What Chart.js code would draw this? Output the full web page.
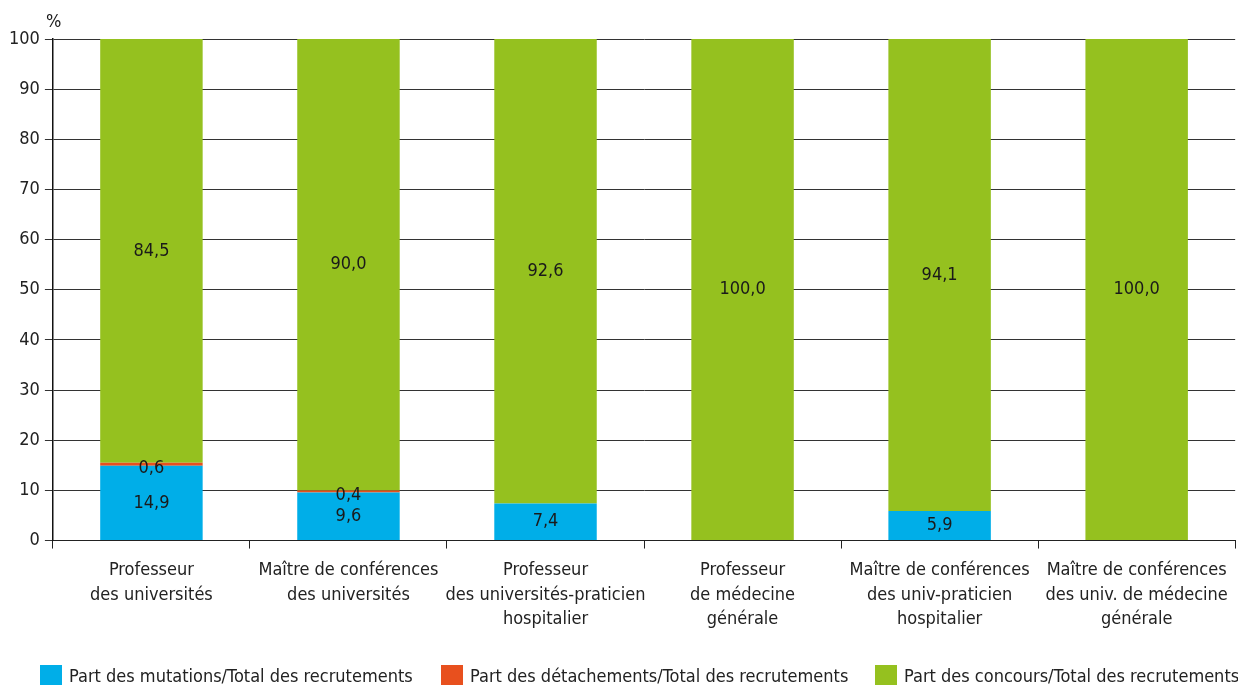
<!DOCTYPE html>
<html>
<head>
<meta charset="utf-8">
<script src="https://cdn.jsdelivr.net/npm/chart.js@4/dist/chart.umd.min.js"></script>
<style>
html,body{margin:0;padding:0;background:#fff;}
#wrap{position:relative;width:1238px;height:685px;}
</style>
</head>
<body>
<div id="wrap"><canvas id="c" width="1238" height="685"></canvas></div>
<script>
const categories = [
  ["Professeur", "des universités"],
  ["Maître de conférences", "des universités"],
  ["Professeur", "des universités-praticien", "hospitalier"],
  ["Professeur", "de médecine", "générale"],
  ["Maître de conférences", "des univ-praticien", "hospitalier"],
  ["Maître de conférences", "des univ. de médecine", "générale"]
];
const mutations = [14.9, 9.6, 7.4, 0, 5.9, 0];
const detachements = [0.6, 0.4, 0, 0, 0, 0];
const concours = [84.5, 90.0, 92.6, 100.0, 94.1, 100.0];
const seriesNames = [
  "Part des mutations/Total des recrutements",
  "Part des détachements/Total des recrutements",
  "Part des concours/Total des recrutements"
];
const seriesColors = ['#00aee8', '#e8501e', '#95c11f'];
const yTicks = [0, 10, 20, 30, 40, 50, 60, 70, 80, 90, 100];

const FONT = "'Liberation Sans Narrow', 'DejaVu Sans Condensed', 'Roboto', sans-serif";

const labelPlugin = {
  id: 'segLabels',
  afterDatasetsDraw(chart) {
    const ctx = chart.ctx;
    ctx.save();
    ctx.font = "18px " + FONT;
    ctx.fillStyle = "#1a1a1a";
    ctx.textAlign = "center";
    ctx.textBaseline = "middle";
    chart.data.datasets.forEach((ds, di) => {
      const meta = chart.getDatasetMeta(di);
      meta.data.forEach((bar, i) => {
        const v = ds.data[i];
        if (!v) return;
        let y = (bar.y + bar.base) / 2;
        if (di === 1) y += 4;
        ctx.fillText(v.toFixed(1).replace('.', ','), bar.x, y);
      });
    });
    // % unit label
    ctx.textAlign = "left";
    ctx.textBaseline = "alphabetic";
    ctx.fillText("%", 46, 27);
    // legend
    const legendX = [40, 441, 875];
    ctx.font = "18px " + FONT;
    ctx.textBaseline = "middle";
    seriesNames.forEach((name, k) => {
      ctx.fillStyle = seriesColors[k];
      ctx.fillRect(legendX[k], 665, 22, 22);
      ctx.fillStyle = "#222";
      ctx.fillText(name, legendX[k] + 29, 677);
    });
    ctx.restore();
  }
};

new Chart(document.getElementById('c'), {
  type: 'bar',
  data: {
    labels: categories,
    datasets: [
      { label: seriesNames[0], data: mutations, backgroundColor: seriesColors[0] },
      { label: seriesNames[1], data: detachements, backgroundColor: seriesColors[1] },
      { label: seriesNames[2], data: concours, backgroundColor: seriesColors[2] }
    ]
  },
  options: {
    responsive: false,
    animation: false,
    layout: { padding: { top: 39, right: 2, left: 4, bottom: 43 } },
    datasets: { bar: { barPercentage: 0.52, categoryPercentage: 1.0 } },
    scales: {
      x: {
        stacked: true,
        grid: { display: true, drawOnChartArea: false, drawTicks: true, tickLength: 8, color: '#222', offset: true },
        border: { display: true, color: '#222', width: 1 },
        ticks: { font: { size: 18, family: FONT, lineHeight: 1.36 }, color: '#222', maxRotation: 0, autoSkip: false, padding: 10 }
      },
      y: {
        stacked: true,
        min: 0, max: 100,
        afterBuildTicks(axis) { axis.ticks = yTicks.map(v => ({ value: v })); },
        grid: { color: '#333', lineWidth: 1, tickLength: 8 },
        border: { display: true, color: '#111', width: 1.5 },
        ticks: { font: { size: 18, family: FONT }, color: '#222', padding: 5 }
      }
    },
    plugins: {
      legend: { display: false },
      tooltip: { enabled: false }
    }
  },
  plugins: [labelPlugin]
});
</script>
</body>
</html>
